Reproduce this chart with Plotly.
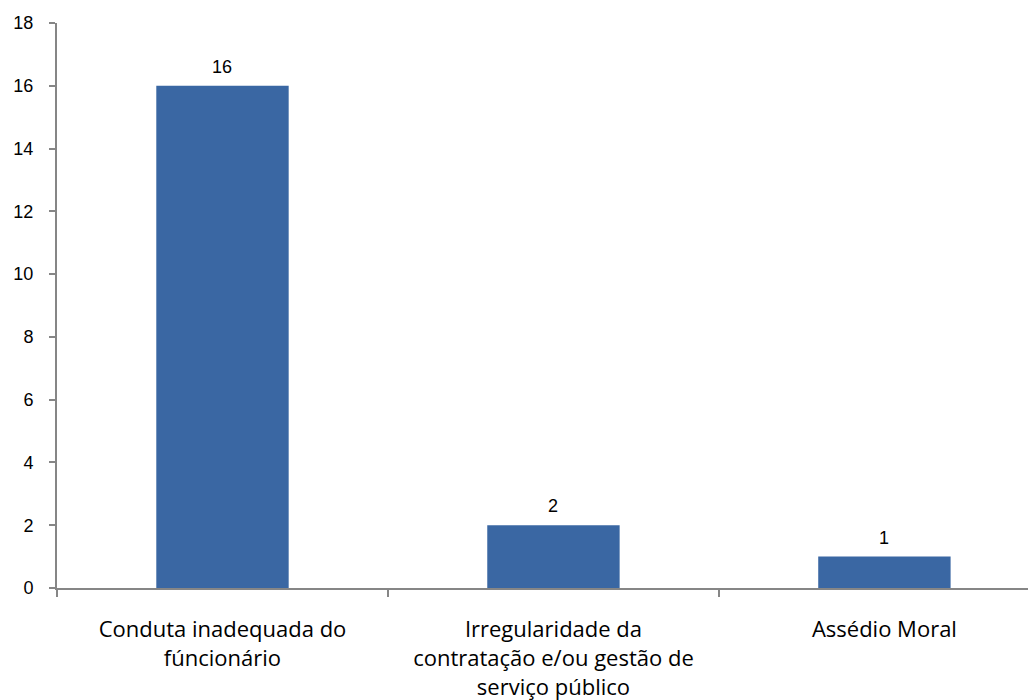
import plotly.graph_objects as go

categories = [
    "Conduta inadequada do<br>fúncionário",
    "Irregularidade da<br>contratação e/ou gestão de<br>serviço público",
    "Assédio Moral",
]
values = [16, 2, 1]
y_ticks = [0, 2, 4, 6, 8, 10, 12, 14, 16, 18]

axis_color = "#868686"

fig = go.Figure()
fig.add_trace(go.Bar(
    x=categories,
    y=values,
    width=0.4,
    marker=dict(color="#3A67A3", line=dict(width=0)),
    hoverinfo="skip",
))

for c, v in zip(categories, values):
    fig.add_annotation(
        x=c, y=v, text=str(v), showarrow=False,
        yanchor="bottom", yshift=7,
        font=dict(family="Liberation Sans, Arial", size=18, color="black"),
    )

fig.update_layout(
    width=1028, height=692,
    margin=dict(l=49, r=0, t=15, b=112),
    plot_bgcolor="white", paper_bgcolor="white",
    showlegend=False,
    bargap=0.6,
)
fig.update_xaxes(
    range=[-0.5, 2.458],
    automargin=False,
    showgrid=False, zeroline=False,
    showline=True, linecolor=axis_color, linewidth=2,
    ticks="outside", tickson="boundaries", ticklen=7, tickwidth=2, tickcolor=axis_color,
    tickfont=dict(family="Open Sans, Lato, sans-serif", size=22, color="black"),
    ticklabelstandoff=21,
)
fig.update_yaxes(
    range=[0, 18],
    automargin=False,
    tickvals=y_ticks,
    showgrid=False, zeroline=False,
    showline=True, linecolor=axis_color, linewidth=2,
    ticks="outside", ticklen=6, tickwidth=2, tickcolor=axis_color,
    tickfont=dict(family="Liberation Sans, Arial", size=18, color="black"),
    ticklabelstandoff=12,
)

fig.write_html("out.html")
